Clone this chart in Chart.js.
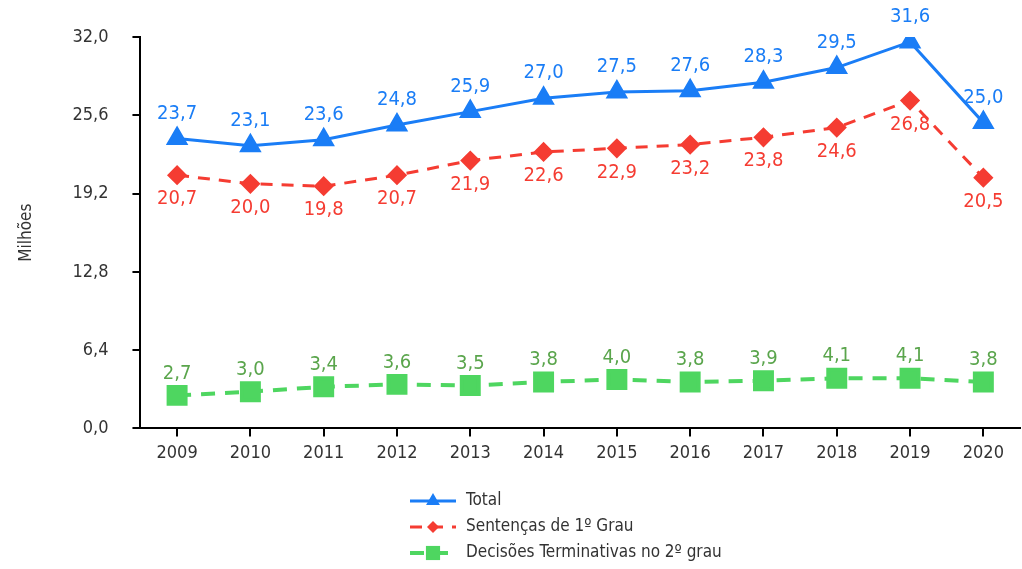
<!DOCTYPE html>
<html>
<head>
<meta charset="utf-8" />
<title>Sentenças e decisões</title>
<script src="https://cdn.jsdelivr.net/npm/chart.js"></script>
<style>
    html, body { margin: 0; background: #fff; overflow: hidden; }
    canvas { display: block; }
</style>
</head>
<body>
<canvas id="chart" width="1022" height="569"></canvas>
<script>
    const anos = ['2009', '2010', '2011', '2012', '2013', '2014', '2015', '2016', '2017', '2018', '2019', '2020'];
    const total = [23.7, 23.1, 23.6, 24.8, 25.9, 27.0, 27.5, 27.6, 28.3, 29.5, 31.6, 25.0];
    const sentencas = [20.7, 20.0, 19.8, 20.7, 21.9, 22.6, 22.9, 23.2, 23.8, 24.6, 26.8, 20.5];
    const decisoes = [2.7, 3.0, 3.4, 3.6, 3.5, 3.8, 4.0, 3.8, 3.9, 4.1, 4.1, 3.8];

    const FONTE = "'DejaVu Sans Condensed', 'Liberation Sans Narrow', Roboto, sans-serif";
    const AZUL = '#1a7df6';
    const VERMELHO = '#f53c32';
    const VERDE = '#4ed660';
    const VERDE_TXT = '#5aa54c';

    const fmt = v => v.toFixed(1).replace('.', ',');

    // rótulos de valor acima/abaixo de cada ponto
    const rotulos = {
        id: 'rotulos',
        afterDatasetsDraw(chart) {
            const ctx = chart.ctx;
            ctx.save();
            ctx.font = '20px ' + FONTE;
            ctx.textAlign = 'center';
            ctx.textBaseline = 'middle';
            chart.data.datasets.forEach((ds, i) => {
                const meta = chart.getDatasetMeta(i);
                ctx.fillStyle = ds.corRotulo;
                meta.data.forEach((pt, j) => {
                    ctx.fillText(fmt(ds.data[j]), pt.x, pt.y + ds.deslocRotulo);
                });
            });
            ctx.restore();
        }
    };

    // legenda empilhada abaixo do gráfico
    const legenda = {
        id: 'legenda',
        afterDraw(chart) {
            const ctx = chart.ctx;
            const x0 = 410, x1 = 456, xt = 466;
            ctx.save();
            ctx.font = '17px ' + FONTE;
            ctx.textBaseline = 'middle';
            chart.data.datasets.forEach((ds, i) => {
                const y = 501 + i * 26;
                ctx.strokeStyle = ds.borderColor;
                ctx.lineWidth = ds.borderWidth;
                ctx.setLineDash(ds.borderDash || []);
                ctx.beginPath();
                ctx.moveTo(x0, y);
                ctx.lineTo(x1, y);
                ctx.stroke();
                ctx.setLineDash([]);
                ctx.fillStyle = ds.pointBackgroundColor;
                ctx.strokeStyle = ds.pointBackgroundColor;
                Chart.helpers.drawPoint(ctx, {
                    pointStyle: ds.pointStyle,
                    radius: ds.raioLegenda,
                    rotation: 0,
                    borderWidth: 0
                }, (x0 + x1) / 2, y);
                ctx.fillStyle = '#333';
                ctx.fillText(ds.label, xt, y);
            });
            ctx.restore();
        }
    };

    new Chart(document.getElementById('chart'), {
        type: 'line',
        data: {
            labels: anos,
            datasets: [
                {
                    label: 'Total',
                    data: total,
                    borderColor: AZUL,
                    backgroundColor: AZUL,
                    pointBackgroundColor: AZUL,
                    pointBorderColor: AZUL,
                    borderWidth: 3,
                    pointStyle: 'triangle',
                    pointRadius: 10,
                    raioLegenda: 8,
                    corRotulo: AZUL,
                    deslocRotulo: -25
                },
                {
                    label: 'Sentenças de 1º Grau',
                    data: sentencas,
                    borderColor: VERMELHO,
                    backgroundColor: VERMELHO,
                    pointBackgroundColor: VERMELHO,
                    pointBorderColor: VERMELHO,
                    borderWidth: 3,
                    borderDash: [12, 9],
                    pointStyle: 'rectRot',
                    pointRadius: 8,
                    raioLegenda: 6,
                    corRotulo: VERMELHO,
                    deslocRotulo: 24
                },
                {
                    label: 'Decisões Terminativas no 2º grau',
                    data: decisoes,
                    borderColor: VERDE,
                    backgroundColor: VERDE,
                    pointBackgroundColor: VERDE,
                    pointBorderColor: VERDE,
                    borderWidth: 4,
                    borderDash: [14, 10],
                    pointStyle: 'rect',
                    pointRadius: 12,
                    raioLegenda: 10,
                    corRotulo: VERDE_TXT,
                    deslocRotulo: -22
                }
            ]
        },
        options: {
            responsive: false,
            animation: false,
            layout: {
                autoPadding: false,
                padding: { top: 37, right: 2, bottom: 99, left: 16 }
            },
            plugins: {
                legend: { display: false },
                tooltip: { enabled: false }
            },
            scales: {
                x: {
                    offset: true,
                    afterFit: s => { s.paddingLeft = 0; s.paddingRight = 0; },
                    grid: {
                        display: true,
                        offset: false,
                        drawOnChartArea: false,
                        color: '#000',
                        lineWidth: 2,
                        tickLength: 8
                    },
                    border: { color: '#000', width: 2 },
                    ticks: {
                        color: '#333',
                        padding: 6,
                        font: { family: FONTE, size: 18 }
                    }
                },
                y: {
                    min: 0,
                    max: 32,
                    afterFit: s => { s.paddingTop = 0; s.paddingBottom = 0; },
                    grid: {
                        display: true,
                        drawOnChartArea: false,
                        color: '#000',
                        lineWidth: 2,
                        tickLength: 8
                    },
                    border: { color: '#000', width: 2 },
                    ticks: {
                        stepSize: 6.4,
                        color: '#333',
                        padding: 24,
                        font: { family: FONTE, size: 18 },
                        callback: v => fmt(v)
                    },
                    title: {
                        display: true,
                        text: 'Milhões',
                        color: '#333',
                        font: { family: FONTE, size: 17 },
                        padding: { top: 0, bottom: 12 }
                    }
                }
            }
        },
        plugins: [rotulos, legenda]
    });
</script>
</body>
</html>
